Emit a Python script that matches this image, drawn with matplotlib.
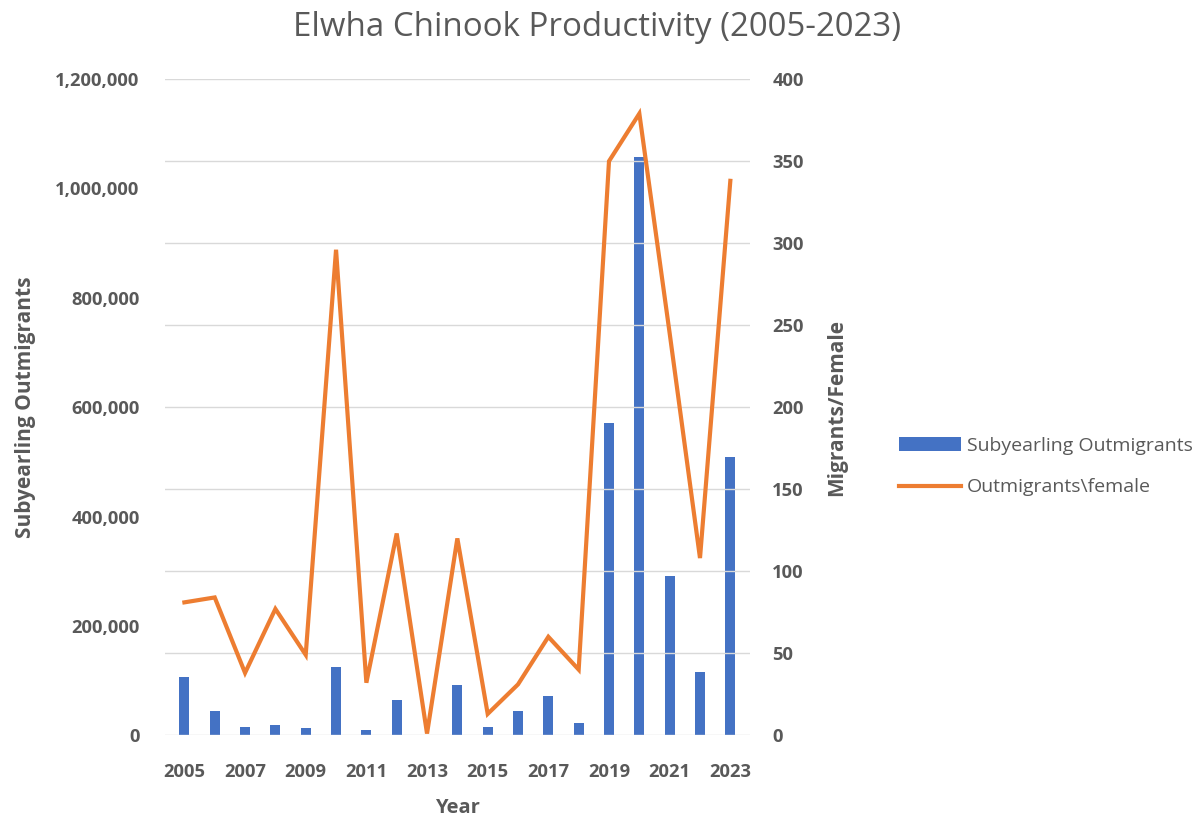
# Elwha Chinook productivity: outmigrant bars + migrants/female line on twin axes.

import matplotlib
matplotlib.use('Agg')
import matplotlib.pyplot as plt
from matplotlib.ticker import FuncFormatter, MultipleLocator

years = list(range(2005, 2024))
outmigrants = [106000, 44000, 15000, 19000, 13000, 124000, 10000, 64000, 0, 92000,
               15000, 44000, 71000, 22000, 571000, 1057000, 291000, 115000, 508000]
per_female = [81, 84, 38, 77, 49, 296, 32, 123, 1, 120,
              13, 31, 60, 40, 350, 379, 245, 108, 338]
year_labels = [str(y) for y in years[::2]]

BLUE = '#4472C4'
ORANGE = '#ED7D31'
GRAY = '#595959'
GRID = '#D9D9D9'

plt.rcParams['font.family'] = ['Open Sans', 'DejaVu Sans']

fig = plt.figure(figsize=(12.02, 8.16), dpi=100)
ax = fig.add_axes([0.137, 0.099, 0.487, 0.804])
ax2 = ax.twinx()

# bars on the primary axis
ax.bar(years, outmigrants, width=0.33, color=BLUE, label='Subyearling Outmigrants')
ax.set_ylim(0, 1200000)
ax.yaxis.set_major_locator(MultipleLocator(200000))
ax.yaxis.set_major_formatter(FuncFormatter(lambda v, p: f'{int(v):,}'))
ax.set_xlim(2004.35, 2023.65)
ax.set_xticks(years[::2])
ax.set_xticklabels(year_labels)

# line on the secondary axis, gridlines follow it
ax2.plot(years, per_female, color=ORANGE, linewidth=3.0, label='Outmigrants\\female',
         solid_joinstyle='miter')
ax2.set_ylim(0, 400)
ax2.yaxis.set_major_locator(MultipleLocator(50))
ax2.grid(axis='y', color=GRID, linewidth=1)
ax2.set_axisbelow(True)

for a in (ax, ax2):
    for s in a.spines.values():
        s.set_visible(False)
    a.tick_params(length=0, labelsize=13.2, labelcolor=GRAY)
    for t in a.get_yticklabels() + a.get_xticklabels():
        t.set_fontweight('bold')
ax.tick_params(axis='y', pad=18)
ax.tick_params(axis='x', pad=20)
ax2.tick_params(axis='y', pad=16)

ax.set_xlabel('Year', fontsize=14.5, fontweight='bold', color=GRAY, labelpad=12)
ax.set_ylabel('Subyearling Outmigrants', fontsize=15, fontweight='bold', color=GRAY, labelpad=14)
ax2.set_ylabel('Migrants/Female', fontsize=15, fontweight='bold', color=GRAY, labelpad=16)

fig.suptitle('Elwha Chinook Productivity (2005-2023)', fontsize=23.8, color=GRAY, y=0.986,
             x=0.497)

h1, l1 = ax.get_legend_handles_labels()
h2, l2 = ax2.get_legend_handles_labels()
leg = fig.legend(h1 + h2, l1 + l2, loc='center left', bbox_to_anchor=(0.733, 0.428),
                 frameon=False, fontsize=14.0, handlelength=3.2, handletextpad=0.3,
                 labelspacing=1.2)
for t in leg.get_texts():
    t.set_color(GRAY)

fig.savefig('out.png', dpi=100)
